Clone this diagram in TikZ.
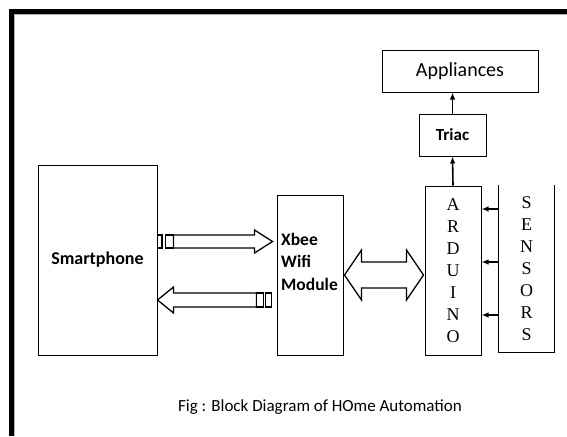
\documentclass[tikz,border=0pt]{standalone}
\usepackage{fontspec}
\setmainfont{Carlito}
\newfontfamily\letterfont{Liberation Serif}
\usetikzlibrary{calc,arrows.meta}

\begin{document}
\begin{tikzpicture}[x=1pt,y=-1pt,
  box/.style={draw,line width=1pt,inner sep=0pt},
  sig/.style={line width=1.6pt,-{Latex[length=7pt,width=5.5pt]}},
  blk/.style={draw,line width=1.3pt,fill=white,line join=miter},
  letters/.style={font=\letterfont\fontsize{18}{21.9}\selectfont,align=center}]
\useasboundingbox (0,0) rectangle (567,436);
% frame
\draw[line width=5pt] (11.5,436) -- (11.5,11.5) -- (567,11.5);
\draw[gray!60,line width=1pt] (14.5,436) -- (14.5,14.5) -- (567,14.5);

% blocks
\node[box,minimum width=119pt,minimum height=190pt,font=\fontsize{18}{22}\selectfont\bfseries] (phone) at (97.5,260) {Smartphone};
\node[box,minimum width=66pt,minimum height=160pt] (xbee) at (310,275) {};
\node[anchor=north west,align=left,inner sep=0pt,font=\fontsize{17.5}{22.5}\selectfont\bfseries] (xbeetxt) at (281,233) {Xbee\\Wifi\\Module};
\node[box,minimum width=56pt,minimum height=169pt,letters] (ard) at (453,270.5) {A\\R\\D\\U\\I\\N\\O};
\node[inner sep=0pt,minimum width=55pt,minimum height=167pt,letters] (sens) at (526.5,268.5) {S\\E\\N\\S\\O\\R\\S};
\draw[line width=1pt] (sens.north west) -- (sens.south west) -- (sens.south east) -- (sens.north east);
\node[box,minimum width=67pt,minimum height=42pt,font=\fontsize{17}{20}\selectfont\bfseries] (triac) at (452.5,135) {Triac};
\node[box,minimum width=156pt,minimum height=41pt,font=\fontsize{20}{24}\selectfont] (appl) at (460,71.5) {Appliances};

% signal arrows
\draw[sig] (ard.north) -- (triac.south);
\draw[sig] (triac.north) -- (triac.north |- appl.south);
\foreach \y in {209,262,315}
  \draw[sig] (sens.west |- 0,\y) -- (ard.east |- 0,\y);

% upper block arrow
\coordinate (ua) at (phone.east |- 0,241.5);
\coordinate (ub) at (xbee.west |- 0,241.5);
\draw[blk] (ua) ++(0,-6.5) rectangle ++(4.5,13);
\draw[blk] ($(ua)+(8,-6.5)$) rectangle ++(8,13);
\draw[blk] ($(ua)+(16,-6.5)$) -- ($(ub)+(-22,-6.5)$) -- ++(0,-5) -- ($(ub)+(-4,0)$)
  -- ($(ub)+(-22,11.5)$) -- ++(0,-5) -- ($(ua)+(16,6.5)$) -- cycle;

% lower block arrow
\coordinate (la) at (phone.east |- 0,300);
\coordinate (lb) at (xbee.west |- 0,300);
\draw[blk] (la) -- ($(la)+(16,-13)$) -- ++(0,6) -- ($(lb)+(-20,-7)$) -- ++(0,14)
  -- ($(la)+(16,7)$) -- ++(0,6) -- cycle;
\draw[blk] ($(lb)+(-20,-7)$) rectangle ++(7,14);
\draw[blk] ($(lb)+(-11,-7)$) rectangle ++(6,14);

% double arrow
\coordinate (da) at (xbee.east |- 0,275);
\coordinate (db) at (ard.west |- 0,275);
\draw[blk] ($(da)+(1,0)$) -- ++(17,-25) -- ++(0,12) -- ($(db)+(-18,-13)$) -- ++(0,-12)
  -- ($(db)+(-1,0)$) -- ++(-17,25) -- ++(0,-12) -- ($(da)+(18,13)$) -- ++(0,12) -- cycle;

\node[font=\fontsize{17}{20}\selectfont] (cap) at (320,407) {Fig : Block Diagram of HOme Automation};
\end{tikzpicture}
\end{document}
